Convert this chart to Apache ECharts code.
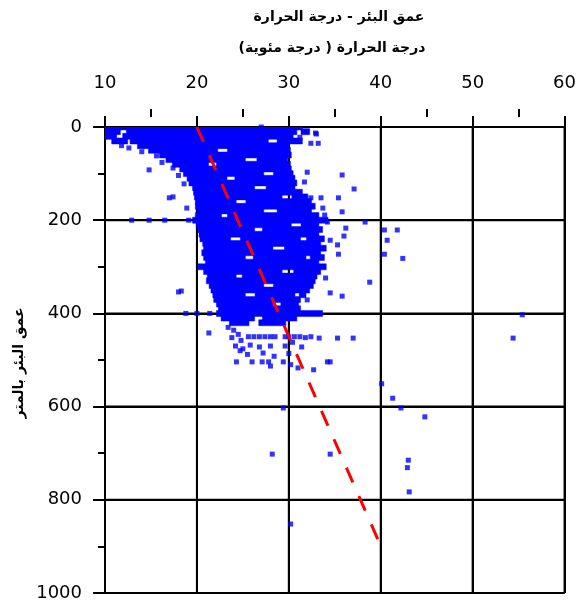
<!DOCTYPE html>
<html>
<head>
<meta charset="utf-8">
<script src="https://cdn.jsdelivr.net/npm/echarts@6/dist/echarts.min.js"></script>
<style>
  html, body { margin: 0; padding: 0; background: #fff; }
  #chart { width: 579px; height: 603px; background: #fff; }
</style>
</head>
<body>
<div id="chart"></div>
<script>
// Well depth vs temperature (°C). Depth axis runs downward.
const chartTitle = 'عمق البئر - درجة الحرارة';
const xAxisTitle = 'درجة الحرارة ( درجة مئوية)';
const yAxisTitle = 'عمق البئر بالمتر';

const tempTicks = [10, 20, 30, 40, 50, 60];
const depthTicks = [0, 200, 400, 600, 800, 1000];

// Dense part of the measurements: each row is a depth (m) followed by
// pairs of temperatures bounding a continuous run of readings.
const denseRows = [
  [0, 10.1, 31.2],
  [10, 10.1, 11.4, 12.6, 30.6, 31.6, 32.0],
  [20, 10.1, 11.0, 12.2, 30.2],
  [30, 11.0, 12.2, 13.0, 27.5, 29.0, 31.2],
  [40, 13.8, 29.8],
  [50, 15.0, 22.0, 23.6, 29.9],
  [60, 16.2, 30.0],
  [70, 16.9, 25.0, 26.8, 29.6],
  [80, 17.6, 21.0, 22.4, 29.9],
  [90, 18.4, 30.0],
  [100, 18.8, 27.0, 28.6, 30.2],
  [110, 19.2, 23.0, 24.4, 30.4],
  [120, 19.4, 30.6],
  [130, 19.8, 26.0, 27.8, 30.4],
  [140, 19.9, 31.2],
  [150, 20.0, 29.0, 30.6, 31.8],
  [160, 20.1, 24.0, 25.6, 32.2],
  [170, 20.1, 32.6],
  [180, 20.3, 27.0, 29.0, 32.2],
  [190, 20.1, 22.4, 23.6, 33.0],
  [200, 19.8, 34.0],
  [210, 20.2, 30.0, 31.6, 33.0],
  [220, 20.4, 26.0, 27.4, 33.4],
  [230, 20.5, 33.0],
  [240, 20.6, 23.4, 25.0, 31.0, 32.2, 33.6],
  [250, 20.9, 33.2],
  [260, 21.0, 28.0, 29.8, 33.8],
  [270, 20.8, 33.2],
  [280, 21.0, 25.0, 26.4, 31.6, 32.6, 33.6],
  [290, 21.2, 33.0],
  [300, 20.4, 33.8],
  [310, 21.0, 29.0, 30.8, 33.2],
  [320, 21.4, 24.0, 25.2, 32.8],
  [330, 21.3, 32.6],
  [340, 21.6, 27.0, 28.6, 32.4],
  [350, 21.8, 32.0],
  [360, 22.0, 25.0, 26.6, 30.4, 31.4, 31.6],
  [370, 22.1, 31.0],
  [380, 22.4, 28.0, 29.4, 30.8],
  [390, 22.6, 31.0],
  [400, 22.4, 33.4],
  [410, 22.9, 26.0, 27.4, 30.6],
  [420, 23.8, 25.4, 27.0, 29.4]
];

// Isolated readings: [temperature, depth]
const sparsePoints = [
  [27.0, 0], [31.8, 10], [32.9, 13], [33.0, 15], [32.4, 35], [33.2, 35], [31.2, 22],
  [11.8, 40], [12.6, 45], [14.0, 53], [15.6, 62], [16.2, 76], [14.8, 92], [17.4, 88],
  [18.0, 104], [18.6, 122], [17.0, 152], [17.4, 150], [18.9, 174],
  [32.0, 97], [31.7, 118], [35.8, 103], [37.1, 133],
  [32.4, 152], [33.5, 152], [35.4, 152], [33.7, 174], [35.8, 182], [33.9, 189],
  [34.2, 204], [38.3, 204], [40.4, 221], [41.8, 221], [40.7, 243], [40.4, 273], [42.4, 282],
  [36.2, 217], [36.0, 234], [34.5, 243], [35.3, 253], [35.4, 273], [34.0, 324],
  [38.8, 333], [34.5, 356], [35.8, 363], [32.0, 371],
  [12.9, 200], [14.8, 200], [16.5, 200], [19.1, 200],
  [18.0, 354], [18.3, 352],
  [18.8, 400], [20.0, 400], [21.4, 400],
  [21.3, 442], [23.4, 430], [24.0, 436], [24.5, 445], [23.8, 452], [24.8, 458],
  [25.6, 450], [26.2, 450], [26.8, 450], [27.4, 450], [28.0, 450], [28.5, 450],
  [29.6, 450], [30.0, 450], [30.6, 450], [31.2, 450], [31.8, 452], [32.4, 450],
  [33.3, 453], [35.3, 453], [37.0, 453],
  [24.2, 470], [25.0, 476], [25.8, 468], [26.8, 472], [28.0, 470], [29.6, 470],
  [30.4, 462], [31.4, 472], [24.7, 480], [25.5, 488], [27.2, 485], [28.4, 492], [30.0, 486],
  [24.3, 504], [26.0, 504], [27.1, 504], [27.8, 504], [28.0, 513], [29.4, 504],
  [31.0, 517], [32.7, 521], [34.2, 504], [34.5, 504], [30.2, 510],
  [55.4, 403], [54.4, 453], [40.1, 551], [41.3, 582], [42.2, 603], [44.8, 622],
  [29.4, 603], [28.2, 702], [34.5, 702], [43.0, 715], [42.9, 731], [43.1, 783], [30.2, 852]
];

// Reference gradient line
const trendTemps = [20, 39.8];
const trendDepths = [0, 890];

// Flatten dense rows into [from, to, depth] runs
const denseRuns = [];
denseRows.forEach(function (row) {
  for (let i = 1; i + 1 < row.length; i += 2) {
    denseRuns.push([row[i], row[i + 1], row[0]]);
  }
});

const trendData = trendTemps.map(function (t, i) { return [t, trendDepths[i]]; });

const ink = '#000000';
const blue = '#0000ff';
const numFont = 'DejaVu Sans';
const arFont = '"DejaVu Sans"';
const tMin = tempTicks[0], tMax = tempTicks[tempTicks.length - 1];
const dMin = depthTicks[0], dMax = depthTicks[depthTicks.length - 1];

const gridStyle = { show: true, showMinLine: true, showMaxLine: true,
                    lineStyle: { color: ink, width: 2, type: 'solid', opacity: 1 } };

const textGraphics = [
  {
    id: 'title', type: 'text', x: 339, y: 17, z: 10,
    style: { text: chartTitle, font: 'bold 14px ' + arFont, fill: '#000',
             textAlign: 'center', textVerticalAlign: 'middle' }
  },
  {
    id: 'xname', type: 'text', x: 332, y: 48, z: 10,
    style: { text: xAxisTitle, font: 'bold 14px ' + arFont, fill: '#000',
             textAlign: 'center', textVerticalAlign: 'middle' }
  },
  {
    id: 'yname', type: 'text', x: 19, y: 363, rotation: Math.PI / 2, z: 10,
    style: { text: yAxisTitle, font: 'bold 14px ' + arFont, fill: '#000',
             textAlign: 'center', textVerticalAlign: 'middle' }
  }
];

const chart = echarts.init(document.getElementById('chart'), null, { renderer: 'canvas' });

chart.setOption({
  animation: false,
  grid: { left: 105, right: 9, top: 127, bottom: 10, show: false },
  xAxis: [
    {
      type: 'value', position: 'top', offset: 18,
      min: tMin, max: tMax, interval: 10,
      axisLine: { show: true, lineStyle: { color: ink, width: 2 } },
      axisTick: { show: true, length: 11, lineStyle: { color: ink, width: 2 } },
      axisLabel: { fontSize: 18, fontFamily: numFont, color: '#000', margin: 17 },
      splitLine: gridStyle
    },
    {
      // minor ticks hanging below the top axis line
      type: 'value', position: 'top', offset: 10,
      min: tMin, max: tMax, interval: 10,
      axisLine: { show: false },
      axisTick: { show: false },
      minorTick: { show: true, splitNumber: 2, length: 8, lineStyle: { color: ink, width: 2 } },
      axisLabel: { show: false },
      splitLine: { show: false }
    }
  ],
  yAxis: {
    type: 'value', inverse: true,
    min: dMin, max: dMax, interval: 200,
    axisLine: { show: true, lineStyle: { color: ink, width: 2 } },
    axisTick: { show: true, length: 12, lineStyle: { color: ink, width: 2 } },
    minorTick: { show: true, splitNumber: 2, length: 7, lineStyle: { color: ink, width: 2 } },
    axisLabel: { fontSize: 18, fontFamily: numFont, color: '#000', margin: 23,
                 formatter: function (v) { return String(v); } },
    splitLine: gridStyle
  },
  graphic: textGraphics,
  series: [
    {
      id: 'dense',
      type: 'custom',
      name: 'dense',
      xAxisIndex: 0,
      data: denseRuns,
      encode: { x: [0, 1], y: 2 },
      clip: true,
      z: 2,
      renderItem: function (params, api) {
        const a = api.coord([api.value(0), api.value(2)]);
        const b = api.coord([api.value(1), api.value(2)]);
        return {
          type: 'rect',
          shape: { x: a[0] - 2.5, y: a[1] - 3, width: b[0] - a[0] + 5, height: 6 },
          style: { fill: blue, stroke: blue, lineWidth: 0.5 }
        };
      }
    },
    {
      type: 'scatter',
      name: 'points',
      xAxisIndex: 0,
      data: sparsePoints,
      symbol: 'rect',
      symbolSize: 5,
      itemStyle: { color: blue, borderWidth: 0 },
      z: 3
    },
    {
      type: 'line',
      name: 'trend',
      xAxisIndex: 0,
      data: trendData,
      symbol: 'none',
      lineStyle: { color: '#ff0000', width: 3, type: [16, 15] },
      z: 4
    }
  ]
});

// Gridlines and the right / bottom frame, placed through the chart's own scales
function toPx(t, d) {
  return chart.convertToPixel({ seriesId: 'dense' }, [t, d]);
}
const gridGraphics = [];
tempTicks.slice(1).forEach(function (t, i) {
  const a = toPx(t, dMin), b = toPx(t, dMax);
  gridGraphics.push({
    id: 'vg' + i, type: 'line', z: 1, silent: true,
    shape: { x1: a[0], y1: a[1], x2: b[0], y2: b[1] },
    style: { stroke: ink, lineWidth: 2 }
  });
});
depthTicks.forEach(function (d, i) {
  const a = toPx(tMin, d), b = toPx(tMax, d);
  gridGraphics.push({
    id: 'hg' + i, type: 'line', z: 1, silent: true,
    shape: { x1: a[0], y1: a[1], x2: b[0], y2: b[1] },
    style: { stroke: ink, lineWidth: 2 }
  });
});
chart.setOption({ graphic: textGraphics.concat(gridGraphics) });
</script>
</body>
</html>
